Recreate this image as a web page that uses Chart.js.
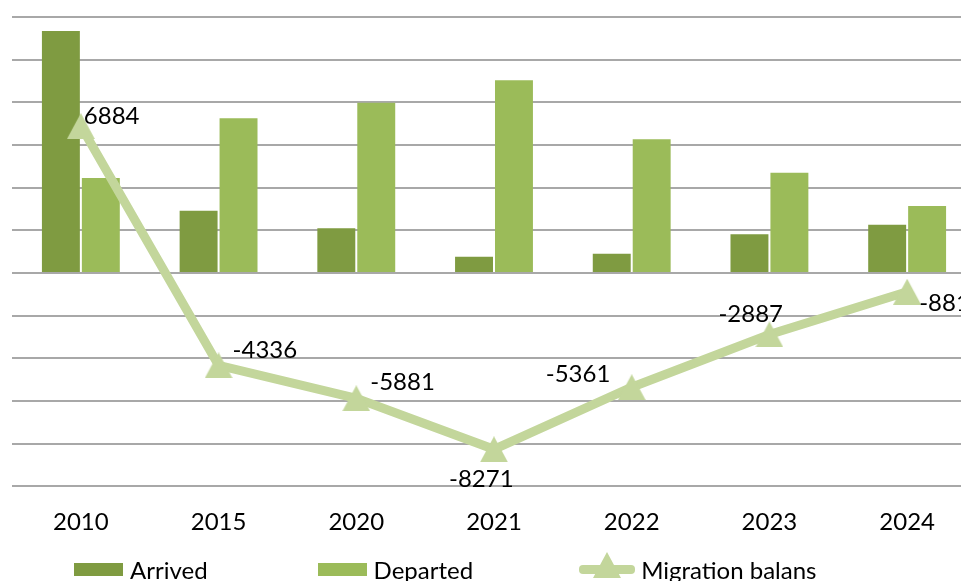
<!DOCTYPE html>
<html>
<head>
<meta charset="utf-8">
<title>Migration</title>
<script src="https://cdn.jsdelivr.net/npm/chart.js@4/dist/chart.umd.min.js"></script>
<style>
  html, body { margin: 0; padding: 0; background: #fff; overflow: hidden; }
  body { width: 961px; height: 581px; position: relative; font-family: Lato, sans-serif; }
  #wrap { position: absolute; left: -4px; top: 0; width: 996px; height: 559px; }
  #legend { position: absolute; left: 74px; top: 555px; display: flex; align-items: center; font-size: 24px; color: #000; white-space: nowrap; }
  .item { display: flex; align-items: center; margin-right: 110px; }
  .item:nth-child(2) { margin-right: 106px; }
  .box { width: 49px; height: 13px; margin-right: 7px; }
  .lineKey { position: relative; width: 56px; height: 9px; border-radius: 4px; margin-right: 6px; }
  .tri { position: absolute; left: 14px; top: -13px; width: 0; height: 0;
         border-left: 14px solid transparent; border-right: 14px solid transparent; border-bottom: 26px solid; }
</style>
</head>
<body>
<div id="wrap"><canvas id="migrationChart"></canvas></div>
<div id="legend"></div>
<script>
// data
const years = ['2010', '2015', '2020', '2021', '2022', '2023', '2024'];
const arrived = [11340, 2920, 2100, 760, 905, 1815, 2255];
const departed = [4456, 7256, 7981, 9031, 6266, 4702, 3136];
const balans = [6884, -4336, -5881, -8271, -5361, -2887, -881];
const yTicks = { min: -10000, max: 12000, step: 2000 };

// where each balans label sits next to its point (dx, dy)
const labelOffsets = [[3, -10], [14, -15], [14, -16], [-45, 30], [-86, -13], [-51, -20], [12, 12]];

Chart.defaults.font.family = 'Lato, sans-serif';
Chart.defaults.color = '#000';

// triangle marker centred on its box, like the office chart marker
function triangleMarker(color) {
    const c = document.createElement('canvas');
    c.width = 28;
    c.height = 26;
    const g = c.getContext('2d');
    g.fillStyle = color;
    g.beginPath();
    g.moveTo(14, 0);
    g.lineTo(28, 26);
    g.lineTo(0, 26);
    g.closePath();
    g.fill();
    return c;
}

const balansLabels = {
    id: 'balansLabels',
    afterDatasetsDraw(chart) {
        const ctx = chart.ctx;
        const meta = chart.getDatasetMeta(2);
        ctx.save();
        ctx.font = '24px Lato, sans-serif';
        ctx.fillStyle = '#000';
        ctx.textAlign = 'left';
        ctx.textBaseline = 'middle';
        meta.data.forEach((pt, i) => {
            const off = labelOffsets[i];
            ctx.fillText(String(balans[i]), pt.x + off[0], pt.y + off[1]);
        });
        ctx.restore();
    }
};

const chart = new Chart(document.getElementById('migrationChart').getContext('2d'), {
    data: {
        labels: years,
        datasets: [
            {
                type: 'bar',
                label: 'Arrived',
                data: arrived,
                backgroundColor: '#7f9b41',
                order: 2
            },
            {
                type: 'bar',
                label: 'Departed',
                data: departed,
                backgroundColor: '#9bbb59',
                order: 2
            },
            {
                type: 'line',
                label: 'Migration balans',
                data: balans,
                borderColor: '#c3d69b',
                backgroundColor: '#c3d69b',
                borderWidth: 9,
                pointStyle: triangleMarker('#c3d69b'),
                pointRadius: 16,
                pointBorderWidth: 0,
                tension: 0,
                order: 1
            }
        ]
    },
    options: {
        responsive: true,
        maintainAspectRatio: false,
        animation: false,
        layout: { padding: { left: 7, right: 15, top: 17, bottom: 0 } },
        datasets: {
            bar: { categoryPercentage: 0.58, barPercentage: 0.95 }
        },
        scales: {
            x: {
                grid: { display: false, drawTicks: false },
                border: { display: false },
                ticks: { font: { size: 24 }, color: '#000', padding: 22 }
            },
            y: {
                min: yTicks.min,
                max: yTicks.max,
                ticks: { display: false, stepSize: yTicks.step },
                grid: { color: '#a8a8a8', lineWidth: 2, drawTicks: false },
                border: { display: false }
            }
        },
        plugins: {
            legend: { display: false },
            tooltip: { enabled: false }
        }
    },
    plugins: [balansLabels]
});

// html legend built from the chart's own legend items, in dataset order
function buildLegend() {
    const box = document.getElementById('legend');
    const items = chart.options.plugins.legend.labels.generateLabels(chart)
        .sort((a, b) => a.datasetIndex - b.datasetIndex);
    items.forEach(item => {
        const ds = chart.data.datasets[item.datasetIndex];
        const el = document.createElement('div');
        el.className = 'item';
        if (ds.type === 'line') {
            const key = document.createElement('span');
            key.className = 'lineKey';
            key.style.background = ds.borderColor;
            const tri = document.createElement('span');
            tri.className = 'tri';
            tri.style.borderBottomColor = ds.borderColor;
            key.appendChild(tri);
            el.appendChild(key);
        } else {
            const key = document.createElement('span');
            key.className = 'box';
            key.style.background = ds.backgroundColor;
            el.appendChild(key);
        }
        const txt = document.createElement('span');
        txt.textContent = item.text;
        el.appendChild(txt);
        box.appendChild(el);
    });
}
buildLegend();
</script>
</body>
</html>
